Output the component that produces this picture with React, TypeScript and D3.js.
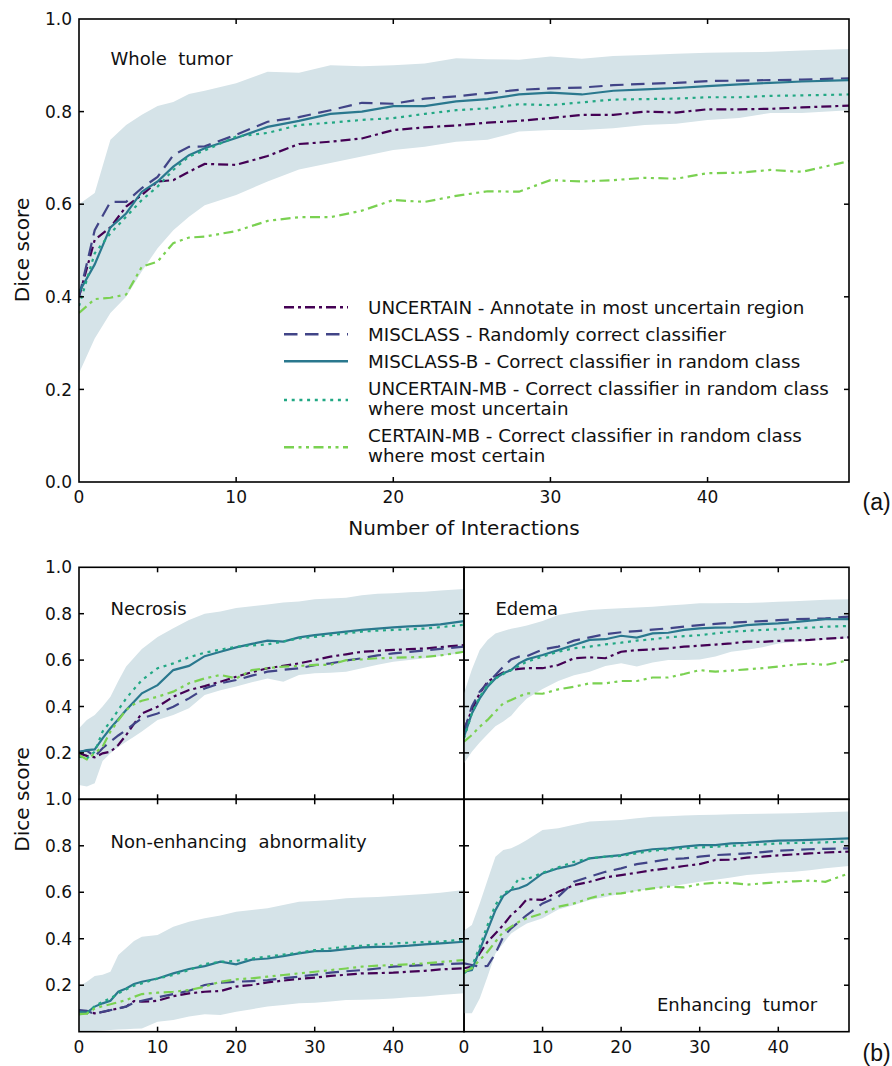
import React from 'react';
import * as d3 from 'd3';

// x positions (number of interactions) at which values were read
const XS = [0, 1, 2, 3, 4, 5, 6, 7, 8, 10, 12, 14, 16, 18, 20, 22, 24, 26, 28, 30, 32, 34, 36, 38, 40, 42, 44, 46, 49];

const X_TICKS = [0, 10, 20, 30, 40];
const Y_TICKS_TOP = [0, 0.2, 0.4, 0.6, 0.8, 1.0];
const Y_TICKS_SUB = [0.2, 0.4, 0.6, 0.8, 1.0];

const SERIES_KEYS = ['UNCERTAIN', 'MISCLASS', 'MISCLASS-B', 'UNCERTAIN-MB', 'CERTAIN-MB'];
const LEGEND_TEXT = [
  ['UNCERTAIN - Annotate in most uncertain region'],
  ['MISCLASS - Randomly correct classifier'],
  ['MISCLASS-B - Correct classifier in random class'],
  ['UNCERTAIN-MB - Correct classifier in random class', 'where most uncertain'],
  ['CERTAIN-MB - Correct classifier in random class', 'where most certain'],
];
const COLORS = ['#440154', '#414487', '#2a788e', '#22a884', '#7ad151'];
const DASHES = ['10,4,3,4', '13.5,7.5', '', '3,4.7', '10,4.5,3,4.5,3,4.5'];

// ---------- Whole tumor ----------
const WT_UNCERTAIN = [0.40, 0.523, 0.55, 0.595, 0.62, 0.649, 0.652, 0.67, 0.687, 0.685, 0.704, 0.73, 0.735, 0.742, 0.76, 0.766, 0.77, 0.776, 0.78, 0.786, 0.793, 0.793, 0.80, 0.798, 0.805, 0.805, 0.806, 0.809, 0.813];
const WT_MISCLASS = [0.40, 0.544, 0.605, 0.605, 0.635, 0.659, 0.706, 0.724, 0.725, 0.75, 0.778, 0.788, 0.803, 0.819, 0.817, 0.828, 0.833, 0.84, 0.847, 0.85, 0.852, 0.857, 0.86, 0.862, 0.866, 0.867, 0.868, 0.869, 0.872];
const WT_MISCLASS_B = [0.41, 0.47, 0.55, 0.58, 0.627, 0.649, 0.681, 0.706, 0.721, 0.743, 0.767, 0.78, 0.795, 0.80, 0.812, 0.812, 0.822, 0.827, 0.837, 0.841, 0.837, 0.845, 0.848, 0.851, 0.855, 0.859, 0.862, 0.865, 0.868];
const WT_UNCERTAIN_MB = [0.38, 0.494, 0.537, 0.573, 0.609, 0.638, 0.674, 0.703, 0.716, 0.746, 0.754, 0.771, 0.776, 0.782, 0.786, 0.795, 0.803, 0.807, 0.816, 0.814, 0.82, 0.826, 0.827, 0.828, 0.831, 0.831, 0.834, 0.835, 0.837];
const WT_CERTAIN_MB = [0.365, 0.395, 0.398, 0.405, 0.465, 0.476, 0.516, 0.528, 0.53, 0.542, 0.564, 0.572, 0.572, 0.586, 0.609, 0.605, 0.618, 0.628, 0.627, 0.652, 0.649, 0.652, 0.657, 0.655, 0.667, 0.668, 0.674, 0.67, 0.693];
const WT_BAND_HI = [0.60, 0.624, 0.739, 0.771, 0.793, 0.812, 0.821, 0.838, 0.845, 0.861, 0.886, 0.884, 0.90, 0.898, 0.90, 0.904, 0.915, 0.913, 0.912, 0.919, 0.914, 0.92, 0.922, 0.925, 0.927, 0.928, 0.929, 0.932, 0.935];
const WT_BAND_LO = [0.235, 0.31, 0.365, 0.40, 0.455, 0.505, 0.544, 0.573, 0.598, 0.62, 0.649, 0.675, 0.689, 0.703, 0.717, 0.724, 0.735, 0.739, 0.757, 0.76, 0.76, 0.764, 0.771, 0.774, 0.782, 0.786, 0.797, 0.797, 0.803];

// ---------- Necrosis ----------
const NC_UNCERTAIN = [0.198, 0.187, 0.181, 0.198, 0.205, 0.234, 0.277, 0.325, 0.37, 0.399, 0.442, 0.471, 0.488, 0.507, 0.528, 0.548, 0.565, 0.575, 0.586, 0.60, 0.615, 0.625, 0.636, 0.64, 0.644, 0.647, 0.65, 0.656, 0.665];
const NC_MISCLASS = [0.205, 0.21, 0.184, 0.22, 0.248, 0.275, 0.299, 0.325, 0.349, 0.37, 0.399, 0.435, 0.478, 0.50, 0.514, 0.533, 0.55, 0.558, 0.565, 0.578, 0.586, 0.598, 0.608, 0.62, 0.629, 0.635, 0.642, 0.648, 0.658];
const NC_MISCLASS_B = [0.203, 0.212, 0.215, 0.263, 0.306, 0.345, 0.385, 0.42, 0.457, 0.492, 0.557, 0.575, 0.617, 0.636, 0.655, 0.67, 0.684, 0.68, 0.698, 0.708, 0.715, 0.723, 0.73, 0.736, 0.741, 0.745, 0.749, 0.754, 0.768];
const NC_UNCERTAIN_MB = [0.184, 0.176, 0.205, 0.292, 0.335, 0.385, 0.435, 0.475, 0.514, 0.565, 0.586, 0.612, 0.632, 0.645, 0.658, 0.663, 0.668, 0.68, 0.694, 0.70, 0.708, 0.715, 0.723, 0.727, 0.73, 0.733, 0.736, 0.742, 0.752];
const NC_CERTAIN_MB = [0.191, 0.172, 0.198, 0.227, 0.292, 0.34, 0.385, 0.41, 0.425, 0.442, 0.464, 0.50, 0.521, 0.536, 0.521, 0.557, 0.565, 0.572, 0.575, 0.579, 0.58, 0.60, 0.603, 0.608, 0.61, 0.612, 0.614, 0.62, 0.636];
const NC_BAND_HI = [0.306, 0.342, 0.363, 0.40, 0.442, 0.51, 0.572, 0.61, 0.648, 0.70, 0.737, 0.773, 0.80, 0.81, 0.825, 0.832, 0.84, 0.848, 0.853, 0.862, 0.865, 0.869, 0.88, 0.886, 0.888, 0.892, 0.895, 0.90, 0.907];
const NC_BAND_LO = [0.062, 0.055, 0.069, 0.165, 0.198, 0.225, 0.248, 0.27, 0.292, 0.342, 0.363, 0.392, 0.45, 0.47, 0.486, 0.505, 0.521, 0.507, 0.536, 0.543, 0.546, 0.55, 0.565, 0.58, 0.593, 0.60, 0.608, 0.618, 0.632];

// ---------- Edema ----------
const ED_UNCERTAIN = [0.30, 0.385, 0.457, 0.507, 0.528, 0.546, 0.557, 0.562, 0.565, 0.565, 0.579, 0.608, 0.612, 0.608, 0.636, 0.643, 0.646, 0.651, 0.658, 0.662, 0.667, 0.672, 0.68, 0.678, 0.683, 0.685, 0.687, 0.692, 0.698];
const ED_MISCLASS = [0.291, 0.40, 0.464, 0.50, 0.536, 0.572, 0.603, 0.615, 0.617, 0.646, 0.658, 0.684, 0.698, 0.712, 0.72, 0.725, 0.731, 0.737, 0.744, 0.751, 0.756, 0.761, 0.765, 0.768, 0.772, 0.776, 0.778, 0.78, 0.787];
const ED_MISCLASS_B = [0.27, 0.37, 0.435, 0.485, 0.521, 0.543, 0.557, 0.586, 0.603, 0.622, 0.643, 0.665, 0.687, 0.69, 0.705, 0.697, 0.715, 0.718, 0.73, 0.737, 0.74, 0.741, 0.751, 0.755, 0.758, 0.764, 0.77, 0.776, 0.777];
const ED_UNCERTAIN_MB = [0.263, 0.37, 0.442, 0.492, 0.521, 0.54, 0.557, 0.575, 0.593, 0.615, 0.636, 0.651, 0.658, 0.668, 0.675, 0.684, 0.69, 0.698, 0.703, 0.708, 0.715, 0.723, 0.726, 0.73, 0.733, 0.737, 0.74, 0.744, 0.747];
const ED_CERTAIN_MB = [0.248, 0.277, 0.313, 0.342, 0.378, 0.414, 0.428, 0.443, 0.457, 0.455, 0.474, 0.485, 0.50, 0.50, 0.51, 0.51, 0.525, 0.525, 0.54, 0.557, 0.55, 0.555, 0.56, 0.565, 0.572, 0.58, 0.585, 0.579, 0.60];
const ED_BAND_HI = [0.457, 0.56, 0.644, 0.687, 0.715, 0.725, 0.735, 0.742, 0.749, 0.768, 0.794, 0.806, 0.816, 0.82, 0.824, 0.827, 0.83, 0.835, 0.84, 0.845, 0.845, 0.846, 0.846, 0.848, 0.852, 0.854, 0.857, 0.86, 0.862];
const ED_BAND_LO = [0.155, 0.205, 0.245, 0.28, 0.315, 0.335, 0.36, 0.40, 0.435, 0.475, 0.51, 0.535, 0.55, 0.575, 0.586, 0.572, 0.59, 0.60, 0.60, 0.603, 0.615, 0.636, 0.645, 0.655, 0.672, 0.678, 0.683, 0.688, 0.694];

// ---------- Non-enhancing abnormality ----------
const NE_UNCERTAIN = [0.09, 0.088, 0.079, 0.085, 0.093, 0.10, 0.108, 0.132, 0.129, 0.133, 0.153, 0.165, 0.172, 0.175, 0.194, 0.201, 0.212, 0.22, 0.227, 0.233, 0.24, 0.245, 0.251, 0.252, 0.254, 0.258, 0.262, 0.268, 0.273];
const NE_MISCLASS = [0.093, 0.09, 0.076, 0.086, 0.093, 0.10, 0.108, 0.125, 0.133, 0.148, 0.162, 0.176, 0.201, 0.211, 0.215, 0.218, 0.222, 0.23, 0.237, 0.245, 0.254, 0.26, 0.265, 0.272, 0.28, 0.283, 0.287, 0.29, 0.294];
const NE_MISCLASS_B = [0.086, 0.082, 0.108, 0.122, 0.133, 0.172, 0.186, 0.205, 0.215, 0.229, 0.251, 0.27, 0.282, 0.301, 0.29, 0.31, 0.315, 0.325, 0.337, 0.347, 0.348, 0.355, 0.363, 0.365, 0.366, 0.37, 0.376, 0.38, 0.387];
const NE_UNCERTAIN_MB = [0.076, 0.078, 0.11, 0.129, 0.143, 0.165, 0.182, 0.198, 0.208, 0.229, 0.244, 0.265, 0.291, 0.301, 0.305, 0.315, 0.323, 0.332, 0.34, 0.351, 0.358, 0.366, 0.37, 0.376, 0.38, 0.383, 0.386, 0.387, 0.397];
const NE_CERTAIN_MB = [0.076, 0.078, 0.10, 0.11, 0.118, 0.127, 0.136, 0.15, 0.162, 0.168, 0.172, 0.179, 0.194, 0.215, 0.225, 0.23, 0.237, 0.244, 0.251, 0.258, 0.265, 0.272, 0.28, 0.284, 0.287, 0.29, 0.294, 0.30, 0.308];
const NE_BAND_HI = [0.194, 0.215, 0.24, 0.245, 0.258, 0.33, 0.36, 0.39, 0.409, 0.416, 0.452, 0.473, 0.488, 0.50, 0.516, 0.524, 0.531, 0.545, 0.559, 0.562, 0.567, 0.574, 0.577, 0.58, 0.584, 0.588, 0.592, 0.598, 0.61];
const NE_BAND_LO = [0.0, 0.0, 0.003, 0.005, 0.007, 0.009, 0.011, 0.013, 0.014, 0.043, 0.05, 0.065, 0.075, 0.072, 0.086, 0.097, 0.108, 0.115, 0.122, 0.125, 0.13, 0.136, 0.138, 0.14, 0.143, 0.148, 0.152, 0.158, 0.165];

// ---------- Enhancing tumor ----------
const ET_UNCERTAIN = [0.273, 0.28, 0.337, 0.387, 0.423, 0.459, 0.502, 0.531, 0.57, 0.567, 0.602, 0.631, 0.645, 0.664, 0.674, 0.684, 0.695, 0.703, 0.713, 0.721, 0.739, 0.74, 0.749, 0.753, 0.759, 0.763, 0.767, 0.771, 0.775];
const ET_MISCLASS = [0.294, 0.287, 0.28, 0.283, 0.337, 0.409, 0.445, 0.473, 0.502, 0.552, 0.581, 0.645, 0.667, 0.688, 0.703, 0.721, 0.731, 0.742, 0.746, 0.753, 0.76, 0.763, 0.767, 0.773, 0.779, 0.782, 0.785, 0.787, 0.789];
const ET_MISCLASS_B = [0.258, 0.265, 0.351, 0.437, 0.523, 0.584, 0.61, 0.617, 0.631, 0.681, 0.703, 0.717, 0.746, 0.753, 0.76, 0.775, 0.785, 0.789, 0.796, 0.803, 0.803, 0.81, 0.813, 0.818, 0.822, 0.823, 0.825, 0.828, 0.832];
const ET_UNCERTAIN_MB = [0.251, 0.28, 0.366, 0.459, 0.545, 0.595, 0.61, 0.66, 0.656, 0.684, 0.707, 0.731, 0.746, 0.753, 0.756, 0.768, 0.779, 0.784, 0.789, 0.793, 0.796, 0.80, 0.803, 0.806, 0.81, 0.812, 0.813, 0.815, 0.818];
const ET_CERTAIN_MB = [0.258, 0.273, 0.308, 0.344, 0.387, 0.43, 0.452, 0.473, 0.488, 0.509, 0.538, 0.552, 0.574, 0.592, 0.595, 0.607, 0.617, 0.624, 0.621, 0.635, 0.641, 0.64, 0.633, 0.638, 0.643, 0.647, 0.65, 0.645, 0.681];
const ET_BAND_HI = [0.435, 0.459, 0.552, 0.653, 0.753, 0.782, 0.789, 0.805, 0.825, 0.868, 0.875, 0.89, 0.904, 0.908, 0.911, 0.918, 0.925, 0.927, 0.93, 0.932, 0.934, 0.936, 0.937, 0.938, 0.939, 0.94, 0.942, 0.944, 0.947];
const ET_BAND_LO = [0.079, 0.079, 0.143, 0.237, 0.337, 0.38, 0.423, 0.445, 0.466, 0.488, 0.526, 0.545, 0.567, 0.58, 0.595, 0.605, 0.615, 0.624, 0.635, 0.645, 0.654, 0.663, 0.674, 0.68, 0.685, 0.688, 0.695, 0.703, 0.713];

const FONT = 'DejaVu Sans, sans-serif';
const BAND_COLOR = '#d5e3e8';

type PanelProps = {
  left: number; right: number; top: number; bottom: number;
  series: number[][]; lo: number[]; hi: number[];
  yTicks: number[]; showYLabels: boolean; showXLabels: boolean;
  title: string; titleX: number; titleY: number; id: string;
};

function Panel(p: PanelProps) {
  const x = d3.scaleLinear().domain([0, 49]).range([p.left, p.right]);
  const y = d3.scaleLinear().domain([0, 1]).range([p.bottom, p.top]);
  const area = d3.area<number>().x((_, i) => x(XS[i])).y0((_, i) => y(p.lo[i])).y1((d) => y(d));
  const line = d3.line<number>().x((_, i) => x(XS[i])).y((d) => y(d));
  const T = 5;
  const innerY = [0.2, 0.4, 0.6, 0.8];
  const innerX = [10, 20, 30, 40];
  return (
    <g>
      <defs>
        <clipPath id={p.id}>
          <rect x={p.left} y={p.top} width={p.right - p.left} height={p.bottom - p.top} />
        </clipPath>
      </defs>
      <g clipPath={`url(#${p.id})`}>
        <path d={area(p.hi) || ''} fill={BAND_COLOR} stroke="none" />
        {p.series.map((s, k) => (
          <path key={k} d={line(s) || ''} fill="none" stroke={COLORS[k]} strokeWidth={2.2}
            strokeDasharray={DASHES[k] || undefined} />
        ))}
      </g>
      <text x={p.titleX} y={p.titleY} fontFamily={FONT} fontSize={18} fill="#111" style={{ whiteSpace: 'pre' }}>{p.title}</text>
      <rect x={p.left} y={p.top} width={p.right - p.left} height={p.bottom - p.top} fill="none" stroke="#000" strokeWidth={1.6} />
      {innerX.map((t) => (
        <g key={'x' + t}>
          <line x1={x(t)} x2={x(t)} y1={p.bottom} y2={p.bottom - T} stroke="#000" strokeWidth={1.5} />
          <line x1={x(t)} x2={x(t)} y1={p.top} y2={p.top + T} stroke="#000" strokeWidth={1.5} />
        </g>
      ))}
      {innerY.map((t) => (
        <g key={'y' + t}>
          <line x1={p.left} x2={p.left + T} y1={y(t)} y2={y(t)} stroke="#000" strokeWidth={1.5} />
          <line x1={p.right} x2={p.right - T} y1={y(t)} y2={y(t)} stroke="#000" strokeWidth={1.5} />
        </g>
      ))}
      {p.showYLabels && p.yTicks.map((t) => (
        <text key={'yl' + t} x={p.left - 7} y={y(t)} dy="0.36em" textAnchor="end" fontFamily={FONT} fontSize={17} fill="#111">{t.toFixed(1)}</text>
      ))}
      {p.showXLabels && X_TICKS.map((t) => (
        <text key={'xl' + t} x={x(t)} y={p.bottom + 21} textAnchor="middle" fontFamily={FONT} fontSize={17} fill="#111">{t}</text>
      ))}
    </g>
  );
}

export default function App() {
  const L = 79, R = 849, M = 464;
  const TOP_T = 19, TOP_B = 482;
  const R1T = 567.3, R1B = 799.3, R2B = 1031.7;

  const legendYs = [307.3, 334.3, 361.3, 400, 447.3];
  const LFS = 18.3;

  return (
    <svg width={892} height={1066} style={{ position: 'absolute', left: 0, top: 0, background: '#fff' }}>
      <rect x={0} y={0} width={892} height={1066} fill="#fff" />
      <Panel id="c0" left={L} right={R} top={TOP_T} bottom={TOP_B}
        series={[WT_UNCERTAIN, WT_MISCLASS, WT_MISCLASS_B, WT_UNCERTAIN_MB, WT_CERTAIN_MB]}
        lo={WT_BAND_LO} hi={WT_BAND_HI} yTicks={Y_TICKS_TOP} showYLabels showXLabels
        title={'Whole  tumor'} titleX={110.5} titleY={65} />
      <Panel id="c1" left={L} right={M} top={R1T} bottom={R1B}
        series={[NC_UNCERTAIN, NC_MISCLASS, NC_MISCLASS_B, NC_UNCERTAIN_MB, NC_CERTAIN_MB]}
        lo={NC_BAND_LO} hi={NC_BAND_HI} yTicks={Y_TICKS_SUB} showYLabels showXLabels={false}
        title={'Necrosis'} titleX={110.5} titleY={615} />
      <Panel id="c2" left={M} right={R} top={R1T} bottom={R1B}
        series={[ED_UNCERTAIN, ED_MISCLASS, ED_MISCLASS_B, ED_UNCERTAIN_MB, ED_CERTAIN_MB]}
        lo={ED_BAND_LO} hi={ED_BAND_HI} yTicks={Y_TICKS_SUB} showYLabels={false} showXLabels={false}
        title={'Edema'} titleX={495.5} titleY={615} />
      <Panel id="c3" left={L} right={M} top={R1B} bottom={R2B}
        series={[NE_UNCERTAIN, NE_MISCLASS, NE_MISCLASS_B, NE_UNCERTAIN_MB, NE_CERTAIN_MB]}
        lo={NE_BAND_LO} hi={NE_BAND_HI} yTicks={Y_TICKS_SUB} showYLabels showXLabels
        title={'Non-enhancing  abnormality'} titleX={110.5} titleY={847.5} />
      <Panel id="c4" left={M} right={R} top={R1B} bottom={R2B}
        series={[ET_UNCERTAIN, ET_MISCLASS, ET_MISCLASS_B, ET_UNCERTAIN_MB, ET_CERTAIN_MB]}
        lo={ET_BAND_LO} hi={ET_BAND_HI} yTicks={Y_TICKS_SUB} showYLabels={false} showXLabels
        title={'Enhancing  tumor'} titleX={657} titleY={1011} />

      {/* legend */}
      {SERIES_KEYS.map((k, i) => (
        <g key={k}>
          <line x1={284} x2={348} y1={legendYs[i]} y2={legendYs[i]} stroke={COLORS[i]} strokeWidth={2.6}
            strokeDasharray={DASHES[i] || undefined} />
          {LEGEND_TEXT[i].length === 1 ? (
            <text x={368} y={legendYs[i] + 6.5} fontFamily={FONT} fontSize={LFS} fill="#111">{LEGEND_TEXT[i][0]}</text>
          ) : (
            <g>
              <text x={368} y={legendYs[i] - 5.5} fontFamily={FONT} fontSize={LFS} fill="#111">{LEGEND_TEXT[i][0]}</text>
              <text x={368} y={legendYs[i] + 14.5} fontFamily={FONT} fontSize={LFS} fill="#111">{LEGEND_TEXT[i][1]}</text>
            </g>
          )}
        </g>
      ))}

      {/* axis labels */}
      <text x={464} y={535} textAnchor="middle" fontFamily={FONT} fontSize={20} fill="#111">Number of Interactions</text>
      <text transform={`translate(29,250) rotate(-90)`} textAnchor="middle" fontFamily={FONT} fontSize={20} fill="#111">Dice score</text>
      <text transform={`translate(29,799.5) rotate(-90)`} textAnchor="middle" fontFamily={FONT} fontSize={20} fill="#111">Dice score</text>

      <text x={862.5} y={509.5} fontFamily="Liberation Sans, Arial, sans-serif" fontSize={23} fill="#111">(a)</text>
      <text x={862.5} y={1060.5} fontFamily="Liberation Sans, Arial, sans-serif" fontSize={23} fill="#111">(b)</text>
    </svg>
  );
}
